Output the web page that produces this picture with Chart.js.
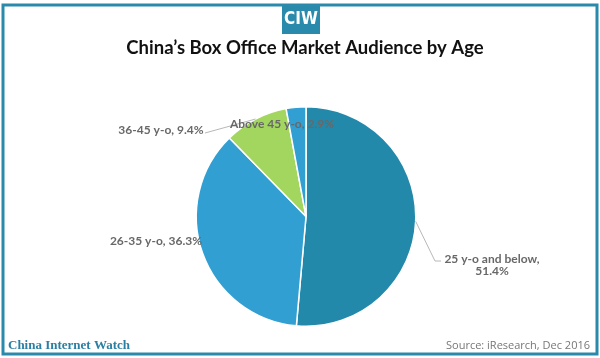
<!DOCTYPE html>
<html>
<head>
<meta charset="utf-8">
<script src="https://cdn.jsdelivr.net/npm/chart.js@4"></script>
<style>
html,body{margin:0;padding:0;background:#fff;}
#wrap{position:relative;width:600px;height:358px;}
</style>
</head>
<body>
<div id="wrap"><canvas id="c" width="600" height="358"></canvas></div>
<script>
// ---- data ----
const categories = ["25 y-o and below", "26-35 y-o", "36-45 y-o", "Above 45 y-o"];
const shares = [51.4, 36.3, 9.4, 2.9];
const sliceColors = ["#2389ab", "#319fd2", "#a2d65e", "#319fd2"];
const titleText = "China\u2019s Box Office Market Audience by Age";
const brandText = "China Internet Watch";
const sourceText = "Source: iResearch, Dec 2016";
const logoText = "CIW";

// ---- label layout (style) ----
const labelLayout = [
  {x: 492, y: 259, wrap: true, line: [[435, 261], [441, 261]]},
  {x: 156, y: 241},
  {x: 161, y: 130, line: [[205, 133]]},
  {x: 282, y: 124}
];

const decorPlugin = {
  id: 'decor',
  beforeDraw(chart) {
    const ctx = chart.ctx;
    ctx.save();
    ctx.fillStyle = '#fff';
    ctx.fillRect(0, 0, 600, 358);
    // frame
    ctx.strokeStyle = '#2a8aab';
    ctx.lineWidth = 3;
    ctx.strokeRect(3, 5, 594, 349);
    // logo
    ctx.fillStyle = '#2a8aab';
    ctx.fillRect(282, 5, 38, 29);
    ctx.fillStyle = '#fff';
    ctx.font = 'bold 17px "Liberation Sans Narrow", "DejaVu Sans Condensed", sans-serif';
    ctx.textAlign = 'center';
    ctx.textBaseline = 'middle';
    ctx.fillText(logoText, 301, 20);
    // title
    ctx.fillStyle = '#111';
    ctx.font = 'bold 18.5px Lato, "Open Sans", sans-serif';
    ctx.fillText(titleText, 305, 48);
    // footer
    ctx.textAlign = 'left';
    ctx.fillStyle = '#2a7fa3';
    ctx.font = 'bold 13px "Liberation Serif", serif';
    ctx.fillText(brandText, 8, 346);
    ctx.textAlign = 'right';
    ctx.fillStyle = '#777';
    ctx.font = '11px "Open Sans", sans-serif';
    ctx.fillText(sourceText, 590, 346);
    ctx.restore();
  },
  afterDraw(chart) {
    const ctx = chart.ctx;
    const meta = chart.getDatasetMeta(0);
    ctx.save();
    meta.data.forEach((arc, i) => {
      const lay = labelLayout[i];
      const p = arc.getProps(['x', 'y', 'startAngle', 'endAngle', 'outerRadius'], true);
      const mid = (p.startAngle + p.endAngle) / 2;
      if (lay.line) {
        ctx.strokeStyle = '#b8b8b8';
        ctx.lineWidth = 1;
        ctx.beginPath();
        ctx.moveTo(p.x + Math.cos(mid) * p.outerRadius, p.y + Math.sin(mid) * p.outerRadius);
        lay.line.forEach(pt => ctx.lineTo(pt[0], pt[1]));
        ctx.stroke();
      }
    });
    ctx.fillStyle = '#686868';
    ctx.font = 'bold 12px Lato, "Open Sans", sans-serif';
    ctx.textAlign = 'center';
    ctx.textBaseline = 'middle';
    meta.data.forEach((arc, i) => {
      const lay = labelLayout[i];
      const val = shares[i].toFixed(1) + '%';
      if (lay.wrap) {
        ctx.fillText(categories[i] + ',', lay.x, lay.y);
        ctx.fillText(val, lay.x, lay.y + 12);
      } else {
        ctx.fillText(categories[i] + ', ' + val, lay.x, lay.y);
      }
    });
    ctx.restore();
  }
};

new Chart(document.getElementById('c'), {
  type: 'pie',
  data: {
    labels: categories,
    datasets: [{
      data: shares,
      backgroundColor: sliceColors,
      borderColor: '#ffffff',
      borderWidth: 1.5
    }]
  },
  options: {
    responsive: false,
    animation: false,
    layout: {padding: {top: 106, bottom: 31, left: 100, right: 88}},
    plugins: {
      legend: {display: false},
      tooltip: {enabled: false},
      title: {display: false}
    }
  },
  plugins: [decorPlugin]
});
</script>
</body>
</html>
